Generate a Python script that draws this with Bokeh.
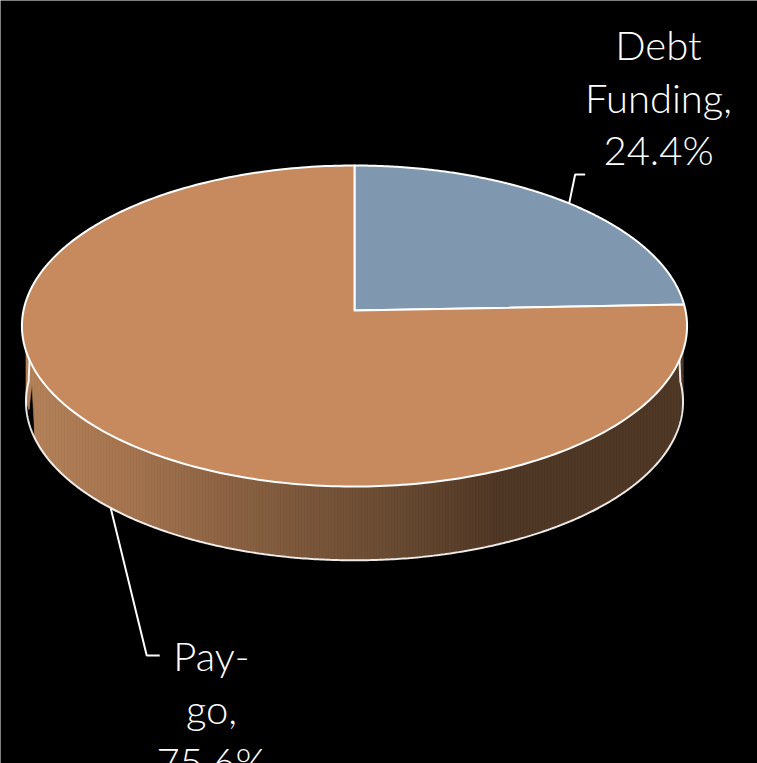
import numpy as np
from bokeh.core.properties import value
from bokeh.embed import file_html
from bokeh.models import Range1d
from bokeh.plotting import figure
from bokeh.resources import INLINE

# Share of capital funding by source
categories = ["Debt Funding", "Pay-go"]
shares = [24.4, 75.6]
slice_colors = ["#7F98AF", "#C68A5E"]
label_lines = [["Debt", "Funding,", "24.4%"], ["Pay-", "go,", "75.6%"]]

FONT = "Lato Light"
FONT_SIZE = "40px"
WHITE = "#FFFFFF"

# Tilted disc: a circle seen in perspective, apex off the ellipse centre
CX = 354.0
TOP = dict(apex=310.0, a=159.0, b=331.0)
BOTTOM = dict(apex=386.0, a=157.0, b=327.0)
K = 0.0966

# Horizontal shading of the rim: (x, rgb)
RIM_STOPS = [
    (25, (180, 130, 90)),
    (130, (165, 117, 80)),
    (230, (140, 99, 68)),
    (330, (118, 84, 57)),
    (420, (100, 71, 48)),
    (500, (80, 56, 38)),
    (690, (80, 56, 38)),
]


def project(theta, disc):
    """Screen position of a rim angle, measured clockwise from 12 o'clock."""
    theta = np.asarray(theta, dtype=float)
    d = 1 + K * np.cos(theta)
    return CX + disc["b"] * np.sin(theta) / d, disc["apex"] - disc["a"] * np.cos(theta) / d


def rim_color(x):
    xs = [s[0] for s in RIM_STOPS]
    rgb = [int(np.interp(x, xs, [s[1][c] for s in RIM_STOPS])) for c in range(3)]
    return "#%02X%02X%02X" % tuple(rgb)


p = figure(
    width=757,
    height=763,
    x_range=Range1d(0, 757),
    y_range=Range1d(763, 0),
    output_backend="svg",
    toolbar_location=None,
    min_border=0,
    background_fill_color="#000000",
    border_fill_color="#000000",
    outline_line_color=None,
)
p.axis.visible = False
p.grid.visible = False

fractions = np.cumsum([0] + shares) / sum(shares)
angles = fractions * 2 * np.pi

# Rim: narrow vertical strips between the front arcs of both ellipses
fine = np.linspace(np.pi / 2 - 0.1, 3 * np.pi / 2 + 0.1, 1600)
top_x, top_y = project(fine, TOP)
bot_x, bot_y = project(fine, BOTTOM)
order_t, order_b = np.argsort(top_x), np.argsort(bot_x)
edges = np.arange(bot_x.min(), bot_x.max() + 3, 3.0)
edges[-1] = bot_x.max()
for x0, x1 in zip(edges[:-1], edges[1:]):
    xs = np.array([x0, x1])
    yt = np.interp(xs, top_x[order_t], top_y[order_t]) - 2
    yb = np.interp(xs, bot_x[order_b], bot_y[order_b])
    c = rim_color((x0 + x1) / 2)
    p.patch([x0, x1, x1, x0], [yt[0], yt[1], yb[1], yb[0]], fill_color=c, line_color=c, line_width=0.6)

# Rim outline: lower arc and the two short silhouette edges
arc = np.linspace(np.pi * 0.49, np.pi * 1.51, 400)
ax, ay = project(arc, BOTTOM)
sil_t = np.array([np.pi * 0.45, np.pi * 1.55])
sx, sy = project(sil_t, TOP)
p.line(np.r_[sx[1], ax[::-1], sx[0]][::1], np.r_[sy[1], ay[::-1], sy[0]], line_color=WHITE, line_width=2, line_alpha=0.9)

# Top face slices
for start, end, color in zip(angles[:-1], angles[1:], slice_colors):
    t = np.linspace(start, end, 300)
    x, y = project(t, TOP)
    p.patch(
        np.r_[CX, x],
        np.r_[TOP["apex"], y],
        fill_color=color,
        line_color=WHITE,
        line_width=2,
        line_join="round",
    )

# Leader lines start at each slice's mid angle
mids = (angles[:-1] + angles[1:]) / 2
dx, dy = project(mids[0], TOP)
p.line([dx, dx + 6, dx + 16], [dy, 174, 174], line_color=WHITE, line_width=2)
gx, gy = project(mids[1], BOTTOM)
p.line([gx, gx + 36, gx + 49], [gy, 655, 655], line_color=WHITE, line_width=2)

# Data labels, one text per wrapped line
label_pos = [(658, [44, 97, 149]), (211, [655, 708, 761])]
for lines, (lx, baselines) in zip(label_lines, label_pos):
    p.text(
        x=[lx] * len(lines),
        y=baselines,
        text=lines,
        text_color=WHITE,
        text_font=value(FONT),
        text_font_size=FONT_SIZE,
        text_align="center",
        text_baseline="alphabetic",
    )

open("out.html", "w").write(file_html(p, INLINE))
